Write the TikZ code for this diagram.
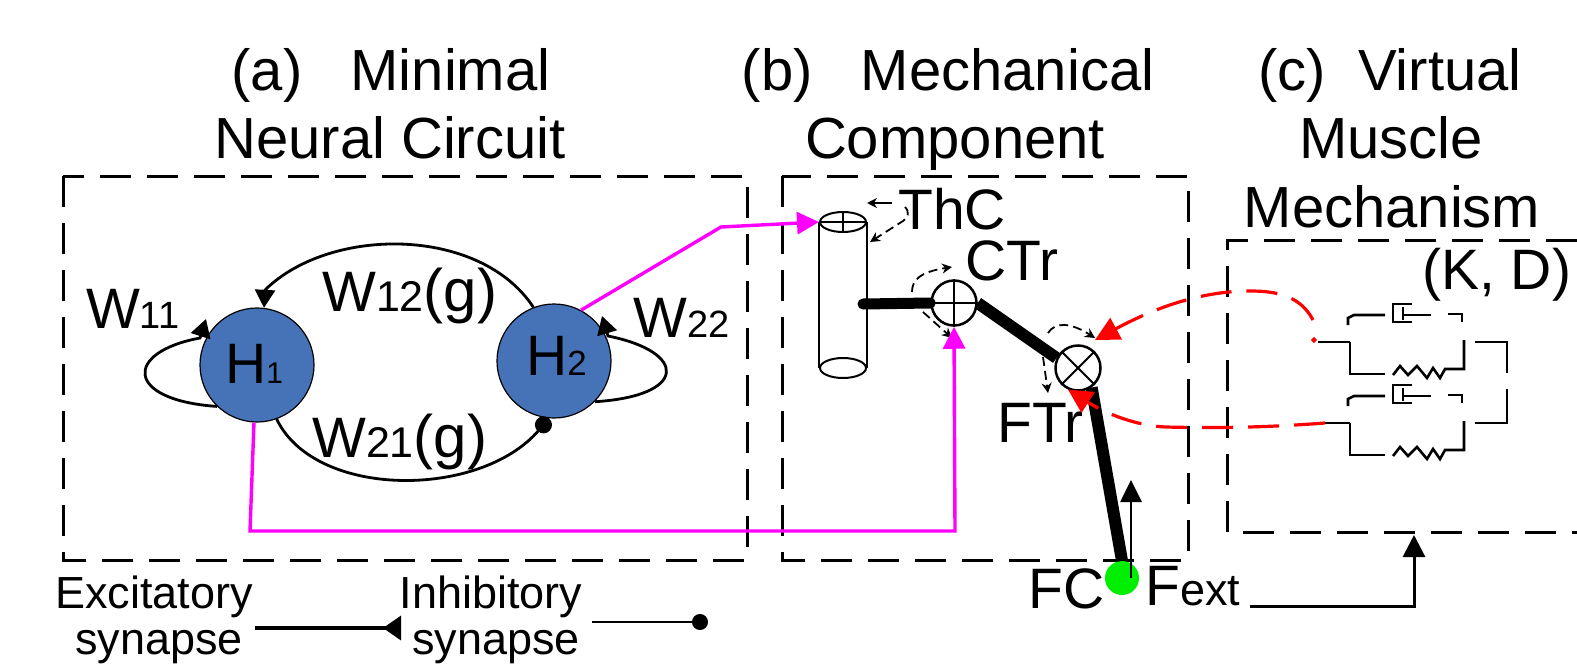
\documentclass[tikz,border=0pt]{standalone}
\usepackage{fontspec}
\setmainfont{Liberation Sans}
\usepackage{tikz}
\usetikzlibrary{arrows.meta,shapes.geometric}
\definecolor{cellblue}{HTML}{4673B8}
\definecolor{contactgreen}{HTML}{00EE00}
\definecolor{pinkline}{HTML}{FF00FF}
\newcommand{\sz}[2]{{\fontsize{#1}{#1}\selectfont #2}}

\begin{document}
\begin{tikzpicture}[x=1pt,y=-1pt,
		txt/.style={inner sep=0pt,anchor=base west,font=\fontsize{57}{60}\selectfont},
		title/.style={inner sep=0pt,anchor=base,font=\fontsize{58}{60}\selectfont},
		legend/.style={inner sep=0pt,anchor=base,font=\fontsize{45}{46}\selectfont},
		cell/.style={circle,draw=black,fill=cellblue,line width=1.2pt,minimum size=114pt,inner sep=0pt},
		joint/.style={circle,draw=black,line width=2.5pt,minimum size=45pt,inner sep=0pt},
		cyl/.style={ellipse,draw=black,line width=2pt,minimum width=46pt,minimum height=20pt,inner sep=0pt},
		box/.style={line width=3pt,dash pattern=on 31pt off 16pt},
		syn/.style={line width=2.8pt},
		exc/.style={-{Triangle[length=18pt,width=20pt]}},
		spin/.style={line width=1.8pt,dash pattern=on 9pt off 5pt,-{Stealth[length=10pt,width=10pt]}},
		pink/.style={draw=pinkline,line width=3.4pt,-{Triangle[length=22pt,width=22pt]}},
		rdash/.style={draw=red,line width=3.2pt,dash pattern=on 31pt off 15pt,-{Triangle[length=24pt,width=24pt]}},
		wire/.style={line width=2.6pt}]
	\useasboundingbox (0,0) rectangle (1577,664);
	% titles
	\node[title] (titleA) at (391,90) {(a)\ \ \ Minimal};
	\node[title] (titleAb) at (390,158) {Neural Circuit};
	\node[title] (titleB) at (948,90) {(b)\ \ \ Mechanical};
	\node[title] (titleBb) at (955,158) {Component};
	\node[title] (titleC) at (1390,90) {(c)\ \ Virtual};
	\node[title] (titleCb) at (1391,158) {Muscle};
	\node[title] (titleCc) at (1392,227) {Mechanism};
	% dashed boxes
	\draw[box] (63,176) rectangle (747,560);
	\draw[box] (782,176) rectangle (1188,560);
	\draw[box] (1577,240) -- (1227,240) -- (1227,532) -- (1577,532);
	% neural circuit
	\node[cell] (h1) at (257,365) {};
	\node[cell] (h2) at (554,361) {};
	\node[txt] (h1txt) at (225,383) {H\sz{30}{1}};
	\node[txt] (h2txt) at (526,375) {H\sz{35}{2}};
	\coordinate (w11tip) at (206,319);
	\coordinate (w22tip) at (602,316);
	\draw[syn,exc] (h2.111) .. controls (480,226) and (330,226) .. (265,290) -- (h1.83);
	\draw[syn,{Circle[length=17pt,width=17pt]}-] (h2.-95) .. controls (480,499) and (315,499) .. (h1.-70);
	\draw[syn,exc] (h1.-134) .. controls (124,400) and (124,352) .. (200,338) -- (w11tip);
	\draw[syn,exc] (h2.-45) .. controls (688,396) and (688,352) .. (608,336) -- (w22tip);
	\node[txt] (w11) at (86,328) {W\sz{38}{11}};
	\node[txt] (w12) at (322,311) {W\sz{43}{12}\sz{60}{(g)}};
	\node[txt] (w21) at (312,457) {W\sz{43}{21}\sz{60}{(g)}};
	\node[txt] (w22) at (633,337) {W\sz{38}{22}};
	% mechanical part
	\node[cyl] (cyltop) at (843,222) {};
	\node[cyl] (cylbot) at (843,368) {};
	\draw[line width=2pt] (cyltop.west) -- (cylbot.west);
	\draw[line width=2pt] (cyltop.east) -- (cylbot.east);
	\draw[line width=1.8pt] (cyltop.north) -- (cyltop.south);
	\draw[line width=1.8pt] (cyltop.west) -- (cyltop.east);
	\node[joint] (ctr) at (954,303) {};
	\node[joint] (fti) at (1078,368) {};
	\draw[line width=2pt] (ctr.north) -- (ctr.south);
	\draw[line width=2pt] (ctr.west) -- (ctr.east);
	\draw[line width=2pt] (fti.45) -- (fti.225);
	\draw[line width=2pt] (fti.135) -- (fti.-45);
	\coordinate (linkStart) at (863,304);
	\node[circle,fill=contactgreen,minimum size=34pt,inner sep=0pt] (fc) at (1122,578) {};
	\draw[line width=11pt,line cap=round] (linkStart) -- (ctr.west);
	\draw[line width=12pt] (ctr.east) -- (fti.155);
	\draw[line width=12pt] (fti.-55) -- (fc.north);
	\node[txt] (thc) at (898,229) {ThC};
	\node[txt] (ctrtxt) at (965,280) {CTr};
	\node[txt] (ftitxt) at (997,442) {FTr};
	\node[txt] (fctxt) at (1028,608) {FC};
	\node[txt] (fext) at (1145,605) {F\sz{45}{ext}};
	\node[txt] (kd) at (1422,289) {(K, D)};
	% small rotation arrows
	\draw[line width=1.8pt,-{Stealth[length=10pt,width=10pt]}] (892,203) -- (867,203);
	\draw[spin] (905,207) .. controls (910,212) and (908,218) .. (903,221) -- (870,242);
	\draw[spin] (912,292) .. controls (912,280) and (920,272) .. (952,267);
	\draw[spin] (923,312) -- (952,338);
	\draw[spin] (1048,333) .. controls (1055,322) and (1070,322) .. (1095,338);
	\draw[spin] (1043,357) -- (1048,393);
	% force arrow
	\coordinate (fextTop) at (1131,480);
	\coordinate (fextBot) at (1131,578);
	\draw[line width=2.8pt,-{Triangle[length=22pt,width=21pt]}] (fextBot) -- (fextTop);
	% virtual muscle
	\foreach \dy in {0,81} {
		\begin{scope}[shift={(0,\dy)}]
			\draw[wire] (1350,342) -- (1350,374) -- (1385,374);
			\draw[wire] (1393,375) -- (1400,366) -- (1408,375) -- (1417,366) -- (1427,378) -- (1433,368) -- (1440,378) -- (1445,369) -- (1464,369) -- (1464,340);
			\draw[wire] (1412,304) -- (1393,304) -- (1393,322) -- (1412,322);
			\draw[wire] (1403,307) -- (1403,320);
			\draw[wire] (1403,315) -- (1431,315);
			\draw[wire] (1348,325) -- (1348,318) -- (1354,315) -- (1385,315);
			\draw[wire] (1448,314) -- (1462,314) -- (1462,322);
		\end{scope}
	}
	\draw[wire] (1318,342) -- (1350,342);
	\draw[wire] (1323,423) -- (1350,423);
	\draw[wire] (1475,342) -- (1507,342) -- (1507,373);
	\draw[wire] (1507,389) -- (1507,423) -- (1475,423);
	% neuron outputs
	\coordinate (hipA) at (721,227);
	\coordinate (cornerA) at (250,531);
	\coordinate (cornerB) at (955,531);
	\draw[pink] (h2.62) -- (hipA) -- (cyltop.west);
	\draw[pink] (h1.-93) -- (cornerA) -- (cornerB) -- (ctr.south);
	% feedback
	\coordinate (fbTop) at (1313,320);
	\coordinate (fbDot) at (1314,340);
	\coordinate (fbBot) at (1325,423);
	\coordinate (ftiTip) at (1095,340);
	\draw[red,line width=3pt] (fbDot) circle (1pt);
	\draw[rdash] (fbTop) .. controls (1300,295) and (1275,291) .. (1250,291) .. controls (1205,291) and (1160,305) .. (ftiTip);
	\draw[rdash] (fbBot) .. controls (1260,428) and (1210,428) .. (1165,427) .. controls (1130,425) and (1100,410) .. (fti.-115);
	% force feedback to muscle
	\coordinate (fextOut) at (1250,606);
	\coordinate (fextBend) at (1414,606);
	\coordinate (boxCin) at (1414,535);
	\draw[line width=3pt,-{Triangle[length=22pt,width=22pt]}] (fextOut) -- (fextBend) -- (boxCin);
	% legend
	\node[legend] (excA) at (154,608) {Excitatory};
	\node[legend] (excB) at (159,654) {synapse};
	\node[legend] (inhA) at (491,608) {Inhibitory};
	\node[legend] (inhB) at (496,654) {synapse};
	\coordinate (excL) at (255,628);
	\coordinate (excR) at (401,628);
	\coordinate (inhL) at (592,622);
	\coordinate (inhR) at (708,622);
	\draw[line width=3.4pt,-{Triangle[reversed,length=18pt,width=24pt]}] (excL) -- (excR);
	\draw[line width=2.8pt,-{Circle[length=16pt,width=16pt]}] (inhL) -- (inhR);
\end{tikzpicture}
\end{document}
